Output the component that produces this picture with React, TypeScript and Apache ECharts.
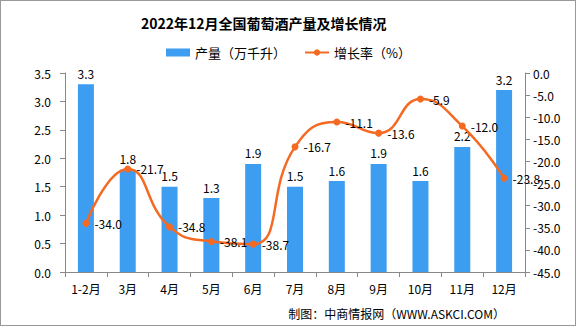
import React, { useEffect, useRef } from "react";
import * as echarts from "echarts";

const categories = ["1-2月", "3月", "4月", "5月", "6月", "7月", "8月", "9月", "10月", "11月", "12月"];
const production = [3.3, 1.8, 1.5, 1.3, 1.9, 1.5, 1.6, 1.9, 1.6, 2.2, 3.2];
const growth = [-34.0, -21.7, -34.8, -38.1, -38.7, -16.7, -11.1, -13.6, -5.9, -12.0, -23.8];

const FONT = "'Noto Sans CJK SC', sans-serif";

export default function App() {
  const ref = useRef<HTMLDivElement>(null);
  useEffect(() => {
    document.body.style.margin = "0";
    const chart = echarts.init(ref.current!, null, { renderer: "svg" });
    chart.setOption({
      animation: false,
      backgroundColor: "#fff",
      textStyle: { fontFamily: FONT },
      title: {
        text: "2022年12月全国葡萄酒产量及增长情况",
        left: 135,
        top: 10,
        textStyle: { fontSize: 14, fontWeight: "bold", color: "#000", fontFamily: FONT },
      },
      legend: {
        top: 40,
        left: 160,
        itemGap: 18,
        itemWidth: 24,
        itemHeight: 8,
        textStyle: { fontSize: 13, color: "#000", fontFamily: FONT },
        data: [
          { name: "产量（万千升）", icon: "rect" },
          { name: "增长率（%）" },
        ],
      },
      grid: { left: 64, right: 50, top: 72, bottom: 53 },
      xAxis: {
        type: "category",
        data: categories,
        axisLine: { lineStyle: { color: "#888" } },
        axisTick: { show: true, alignWithLabel: false, lineStyle: { color: "#888" } },
        axisLabel: { color: "#000", fontSize: 12, margin: 10 },
      },
      yAxis: [
        {
          type: "value",
          min: 0,
          max: 3.5,
          interval: 0.5,
          position: "left",
          splitLine: { show: false },
          axisLine: { show: true, lineStyle: { color: "#888" } },
          axisTick: { show: true, lineStyle: { color: "#888" } },
          axisLabel: { color: "#000", fontSize: 12, formatter: (v: number) => v.toFixed(1), margin: 14 },
        },
        {
          type: "value",
          min: -45,
          max: 0,
          interval: 5,
          position: "right",
          splitLine: { show: false },
          axisLine: { show: true, lineStyle: { color: "#888" } },
          axisTick: { show: true, lineStyle: { color: "#888" } },
          axisLabel: { color: "#000", fontSize: 12, formatter: (v: number) => v.toFixed(1), margin: 8 },
        },
      ],
      series: [
        {
          name: "产量（万千升）",
          type: "bar",
          data: production,
          barWidth: 16,
          itemStyle: { color: "#3d9df0" },
          label: {
            show: true,
            position: "top",
            color: "#000",
            fontSize: 12,
            formatter: (p: any) => p.value.toFixed(1),
          },
        },
        {
          name: "增长率（%）",
          type: "line",
          yAxisIndex: 1,
          data: growth,
          smooth: true,
          symbol: "circle",
          symbolSize: 7,
          lineStyle: { color: "#f56a23", width: 2.5 },
          itemStyle: { color: "#f56a23" },
          label: {
            show: true,
            position: "right",
            color: "#000",
            fontSize: 12,
            formatter: (p: any) => p.value.toFixed(1),
          },
        },
      ],
      graphic: [
        {
          type: "text",
          right: 70,
          bottom: 6,
          style: { text: "制图：中商情报网（WWW.ASKCI.COM）", fill: "#000", fontSize: 12, fontFamily: FONT },
        },
      ],
    });
    return () => chart.dispose();
  }, []);
  return (
    <div
      ref={ref}
      style={{
        position: "absolute",
        left: 0,
        top: 0,
        width: 576,
        height: 326,
        border: "1px solid #999",
        boxSizing: "border-box",
      }}
    />
  );
}
